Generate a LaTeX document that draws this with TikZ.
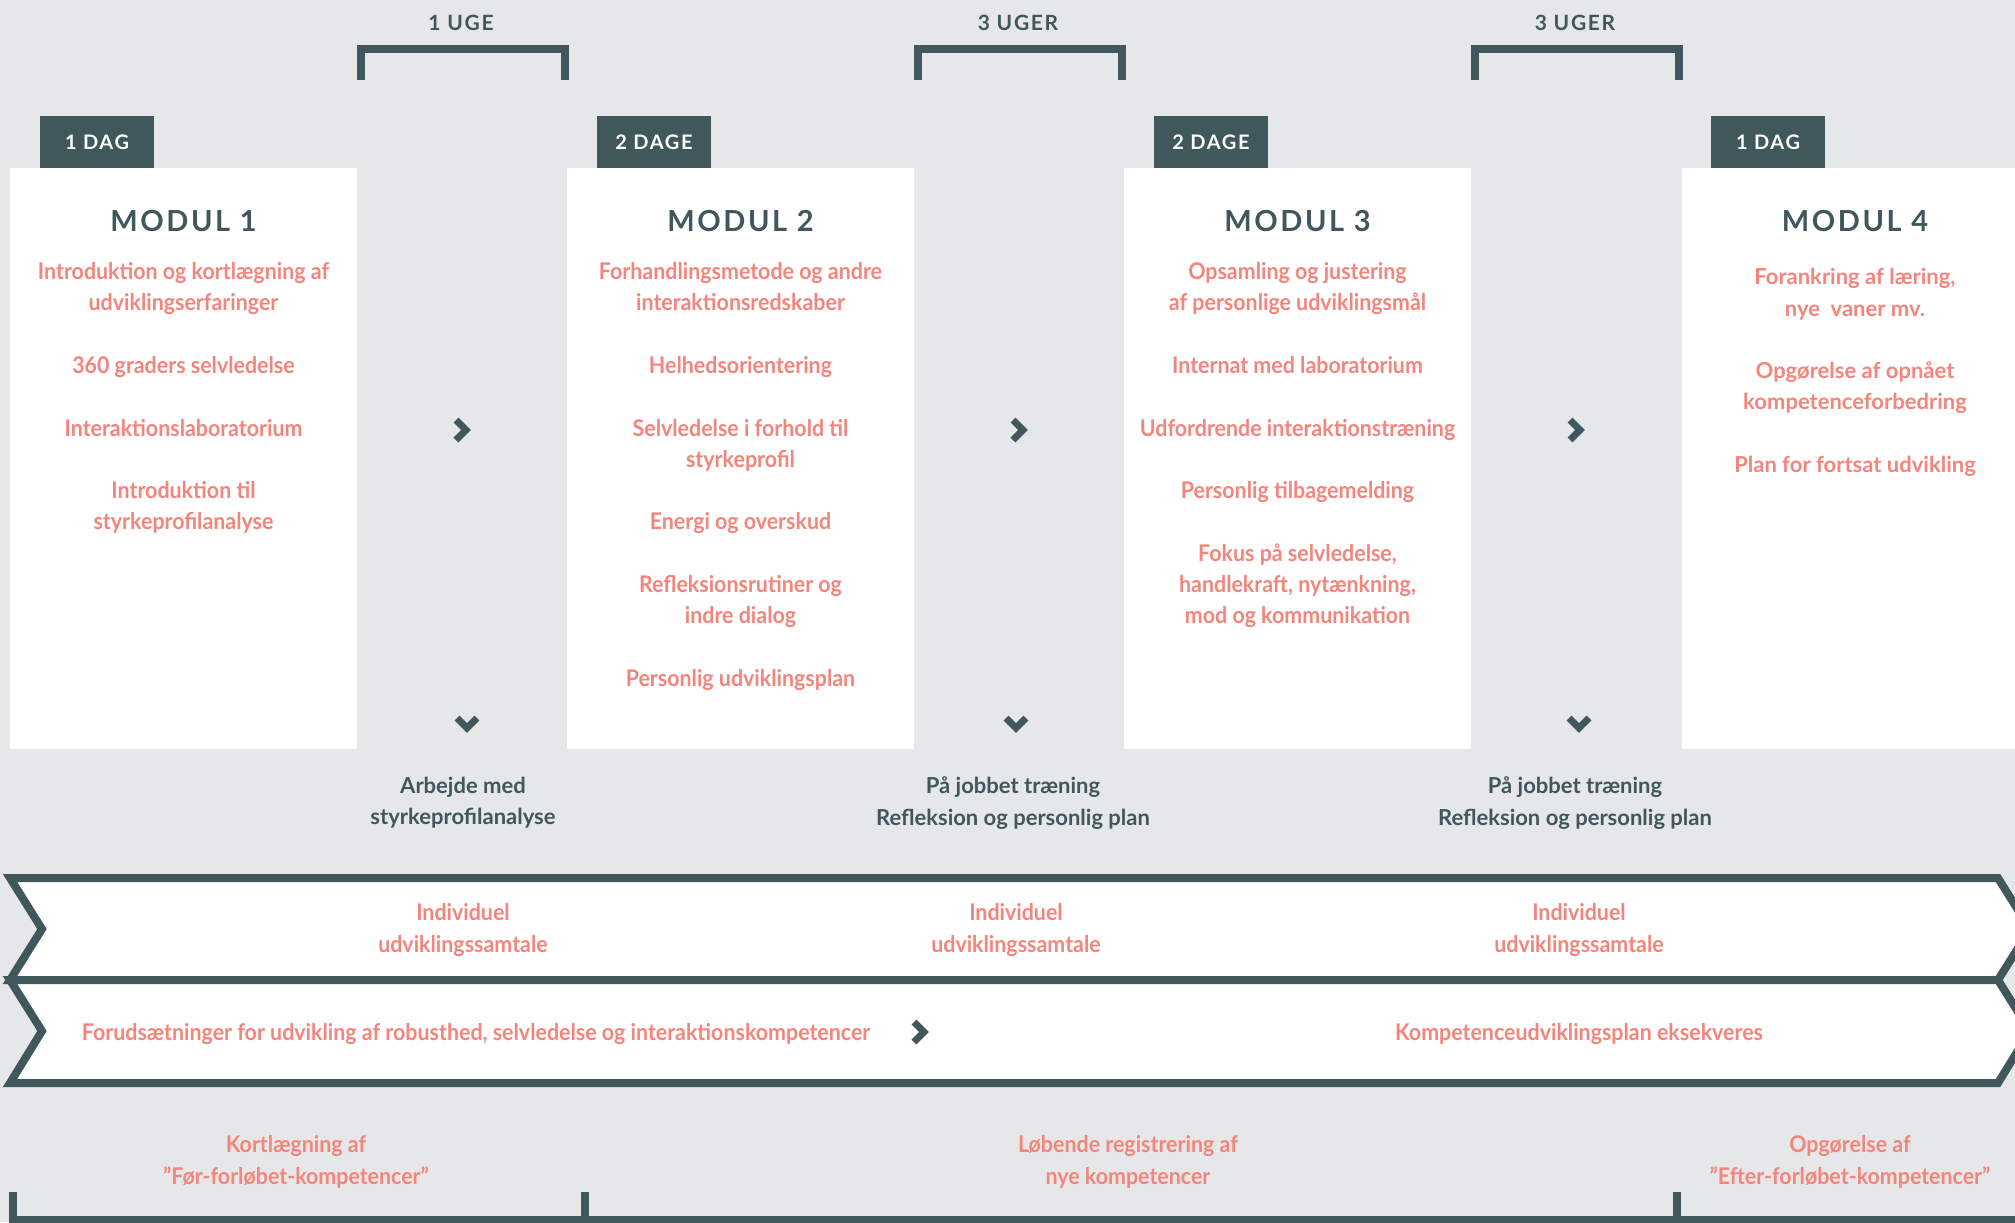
\documentclass[tikz,border=0pt]{standalone}
\usepackage{fontspec}
\setmainfont{Lato}
\newfontfamily\narrowfont[FakeStretch=0.93]{Lato}
\usetikzlibrary{positioning}
\definecolor{slate}{HTML}{40575C}
\definecolor{salmon}{HTML}{F4857C}
\definecolor{paper}{HTML}{E6E7E9}

\begin{document}
\begin{tikzpicture}[
    x=0.5pt, y=-0.5pt,
    modbox/.style={fill=white, minimum width=173.5pt, minimum height=290.5pt, inner sep=0pt},
    tag/.style={fill=slate, text=white, minimum width=57pt, minimum height=26pt, inner sep=0pt, font=\fontsize{10}{12}\selectfont\bfseries\addfontfeature{LetterSpace=8}},
    modtitle/.style={text=slate, inner sep=0pt, font=\fontsize{14.5}{16}\selectfont\bfseries\addfontfeature{LetterSpace=9}},
    items/.style={align=center, text=salmon, inner sep=0pt, anchor=north, font=\narrowfont\fontsize{11.5}{15.65}\selectfont\bfseries},
    wideitems/.style={items, font=\fontsize{11}{15.65}\selectfont\bfseries},
    note/.style={align=center, text=slate, inner sep=0pt, font=\fontsize{11}{15.65}\selectfont\bfseries},
    band/.style={align=center, text=salmon, inner sep=0pt, font=\narrowfont\fontsize{11.5}{15.65}\selectfont\bfseries},
    span/.style={text=slate, inner sep=0pt, font=\fontsize{10.5}{12}\selectfont\bfseries\addfontfeature{LetterSpace=8}},
    bracket/.style={draw=slate, line width=4pt, line cap=butt, line join=miter},
    chev/.style={draw=slate, line width=3.5pt, line cap=butt, line join=miter}
]
\useasboundingbox (0,0) rectangle (2015,1222);
\fill[paper] (0,0) rectangle (2015,1222);

% week brackets
\node[span] (w1) at (461,23) {1 UGE};
\node[span] (w2) at (1018,23) {3 UGER};
\node[span] (w3) at (1575,23) {3 UGER};
\draw[bracket] (361,80) -- (361,49) -- (565,49) -- (565,80);
\draw[bracket] (918,80) -- (918,49) -- (1122,49) -- (1122,80);
\draw[bracket] (1475,80) -- (1475,49) -- (1679,49) -- (1679,80);

% modules
\node[modbox] (m1) at (183.5,458.5) {};
\node[modbox] (m2) at (740.5,458.5) {};
\node[modbox] (m3) at (1297.5,458.5) {};
\node[modbox] (m4) at (1855,458.5) {};

\node[tag] (d1) at (97,142) {1 DAG};
\node[tag] (d2) at (654,142) {2 DAGE};
\node[tag] (d3) at (1211,142) {2 DAGE};
\node[tag] (d4) at (1768,142) {1 DAG};

\node[modtitle] (t1) at (183.5,221) {MODUL 1};
\node[modtitle] (t2) at (740.5,221) {MODUL 2};
\node[modtitle] (t3) at (1297.5,221) {MODUL 3};
\node[modtitle] (t4) at (1855,221) {MODUL 4};

\node[items] (i1) at (183.5,262) {Introduktion og kortlægning af\\udviklingserfaringer\\[15.65pt]
    360 graders selvledelse\\[15.65pt]
    Interaktionslaboratorium\\[15.65pt]
    Introduktion til\\styrkeprofilanalyse};
\node[items] (i2) at (740.5,262) {Forhandlingsmetode og andre\\interaktionsredskaber\\[15.65pt]
    Helhedsorientering\\[15.65pt]
    Selvledelse i forhold til\\styrkeprofil\\[15.65pt]
    Energi og overskud\\[15.65pt]
    Refleksionsrutiner og\\indre dialog\\[15.65pt]
    Personlig udviklingsplan};
\node[items] (i3) at (1297.5,262) {Opsamling og justering\\af personlige udviklingsmål\\[15.65pt]
    Internat med laboratorium\\[15.65pt]
    Udfordrende interaktionstræning\\[15.65pt]
    Personlig tilbagemelding\\[15.65pt]
    Fokus på selvledelse,\\handlekraft, nytænkning,\\mod og kommunikation};
\node[wideitems] (i4) at (1855,268) {Forankring af læring,\\nye\ \ vaner mv.\\[15.65pt]
    Opgørelse af opnået\\kompetenceforbedring\\[15.65pt]
    Plan for fortsat udvikling};

% between modules
\foreach \x in {461,1018,1575}
    \draw[chev] (\x-5,420) -- (\x+5,430) -- (\x-5,440);
\foreach \x in {467,1016,1579}
    \draw[chev] (\x-10,718) -- (\x,728) -- (\x+10,718);

\node[note] (n1) at (463,803) {Arbejde med\\styrkeprofilanalyse};
\node[note] (n2) at (1013,803) {På jobbet træning\\Refleksion og personlig plan};
\node[note] (n3) at (1575,803) {På jobbet træning\\Refleksion og personlig plan};

% arrow bands
\draw[bracket, fill=white] (10,878) -- (1998,878) -- (2030,929) -- (1998,980) -- (10,980) -- (42,929) -- cycle;
\draw[bracket, fill=white] (10,980) -- (1998,980) -- (2030,1031) -- (1998,1083) -- (10,1083) -- (42,1031) -- cycle;

\node[band] (s1) at (463,930) {Individuel\\udviklingssamtale};
\node[band] (s2) at (1016,930) {Individuel\\udviklingssamtale};
\node[band] (s3) at (1579,930) {Individuel\\udviklingssamtale};

\node[band] (p1) at (476,1034) {Forudsætninger for udvikling af robusthed, selvledelse og interaktionskompetencer};
\draw[chev] (914,1022) -- (924,1032) -- (914,1042);
\node[band] (p2) at (1579,1034) {Kompetenceudviklingsplan eksekveres};

% measurement line
\node[band] (k1) at (296,1162) {Kortlægning af\\”Før-forløbet-kompetencer”};
\node[band] (k2) at (1128,1162) {Løbende registrering af\\nye kompetencer};
\node[band] (k3) at (1850,1162) {Opgørelse af\\”Efter-forløbet-kompetencer”};
\draw[bracket] (13,1192) -- (13,1220) -- (2015,1220);
\draw[bracket] (585,1192) -- (585,1220);
\draw[bracket] (1677,1192) -- (1677,1220);
\end{tikzpicture}
\end{document}
